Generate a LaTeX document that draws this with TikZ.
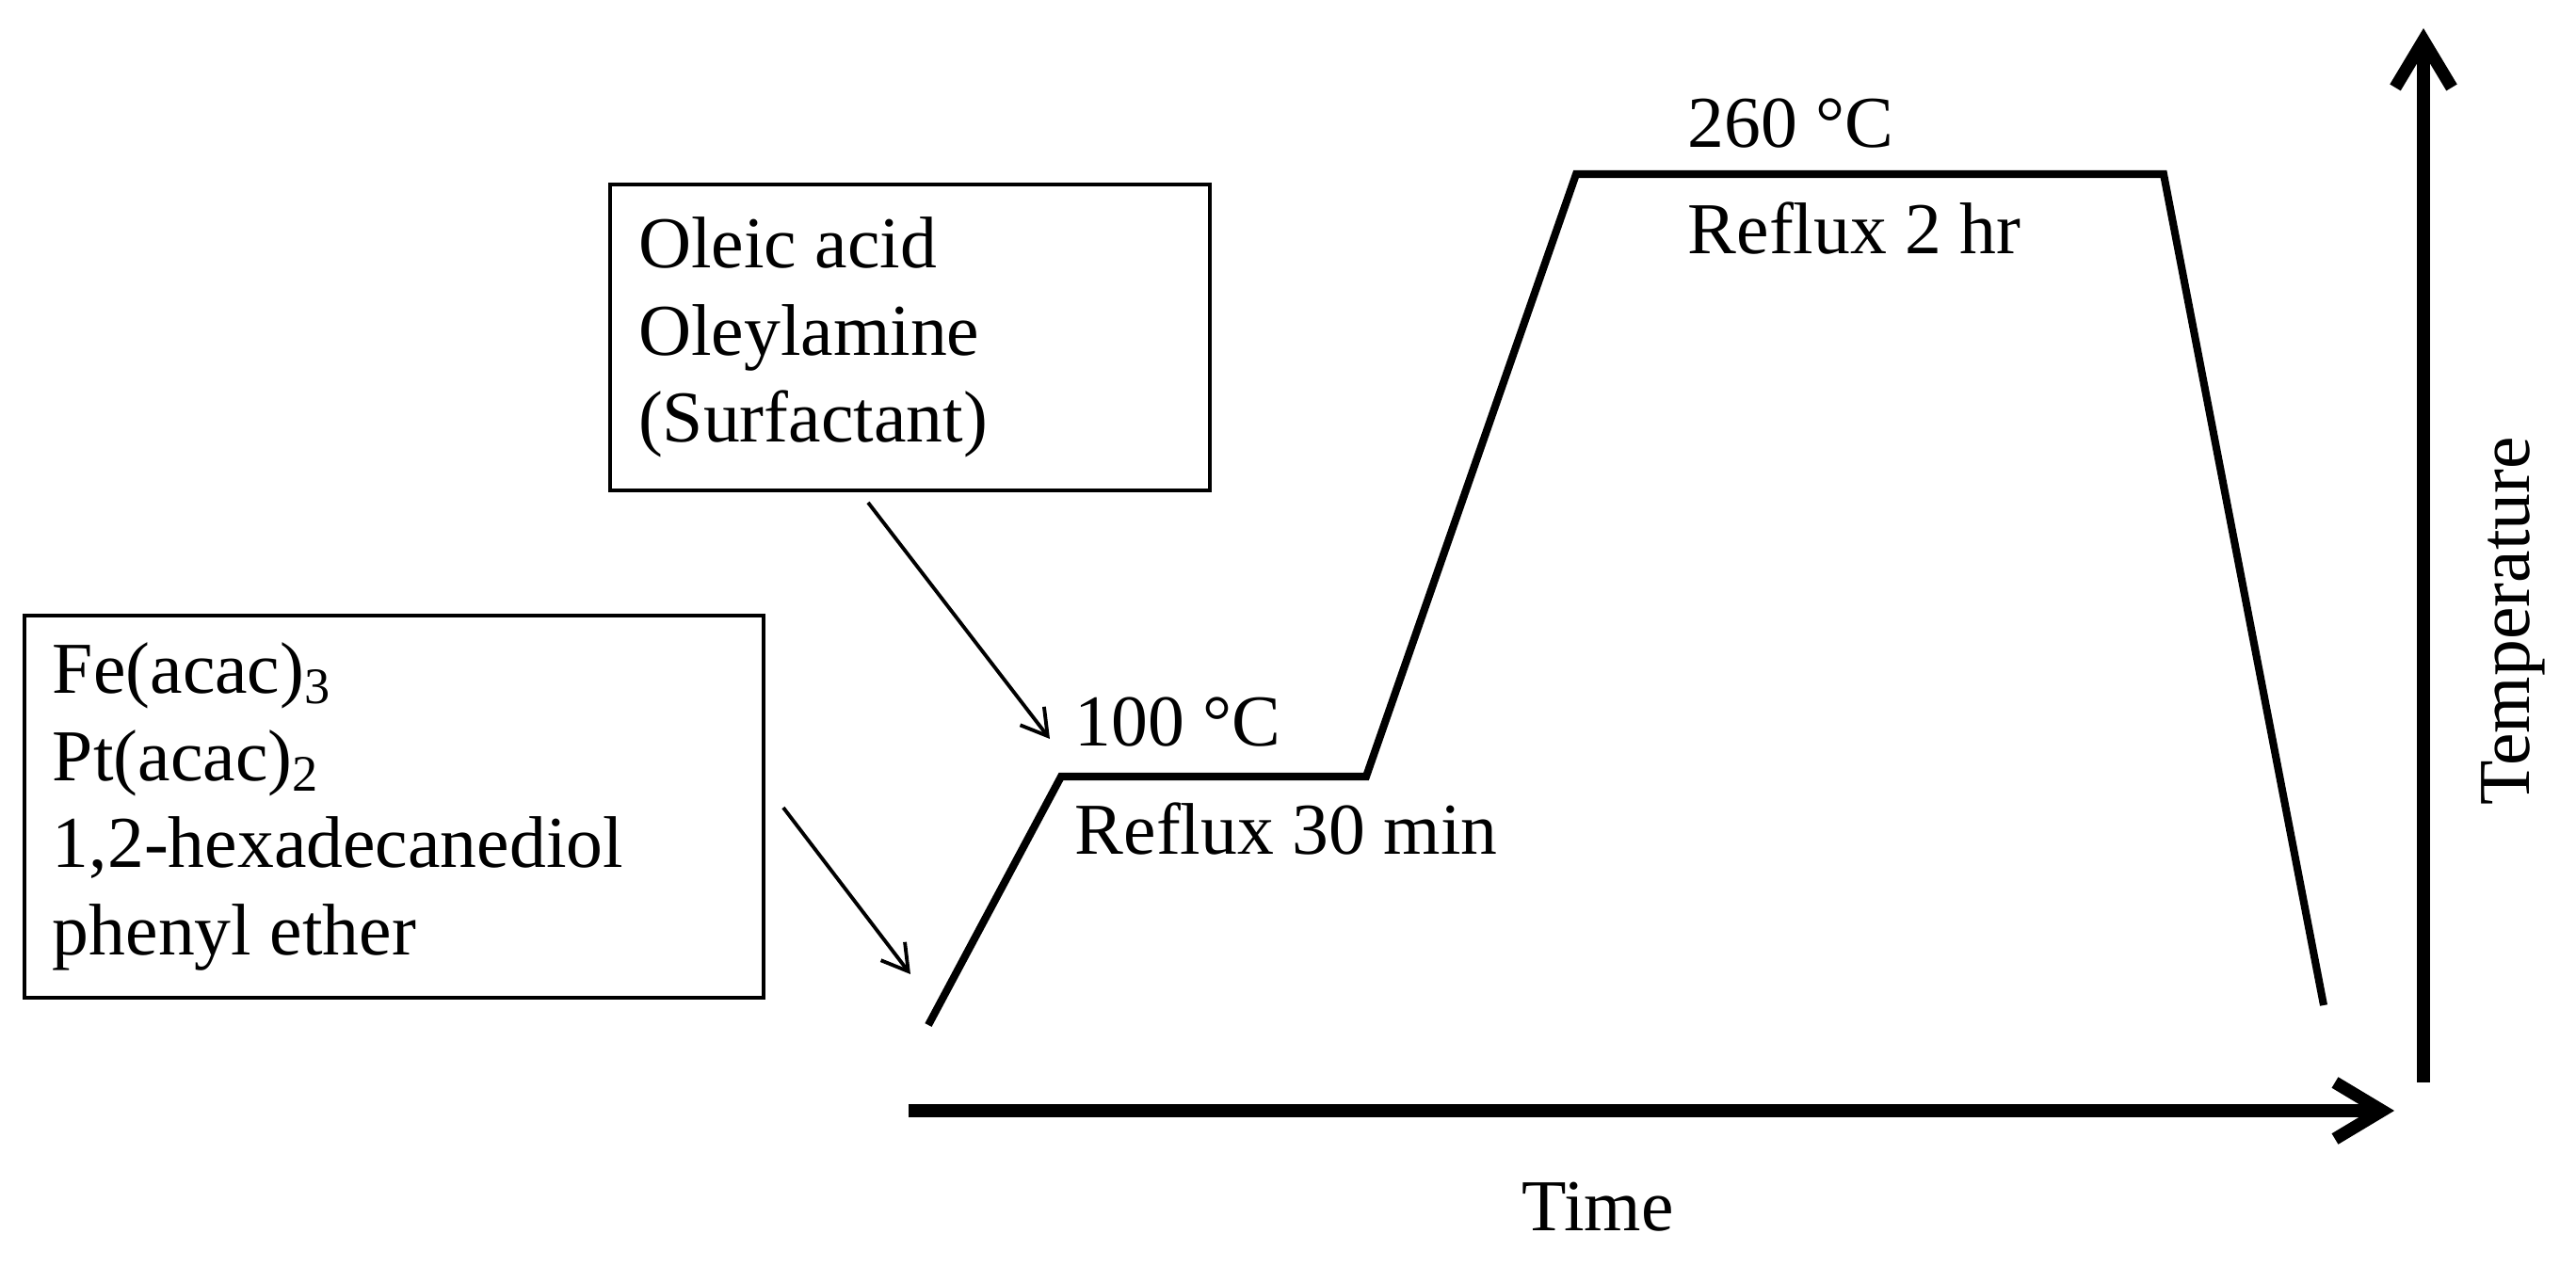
\documentclass[tikz,border=0pt]{standalone}
\usepackage{fontspec}
\setmainfont{Liberation Serif}
\usetikzlibrary{positioning, calc, arrows.meta}

\begin{document}
\begin{tikzpicture}[
		font=\fontsize{22.1pt}{26.4pt}\selectfont,
		% Style for the two ingredient boxes
		ingredient/.style={
			draw, line width=1.1pt,
			align=left, inner xsep=0.3cm, inner ysep=0pt,
			anchor=center,
			execute at begin node={\spaceskip=0pt\xspaceskip=0pt}
		},
		% Connector styles
		pointer/.style={-{Straight Barb[length=0.27cm, width=0.32cm]}, line width=1.1pt},
		axis/.style={-{Straight Barb[length=0.5cm, width=0.6cm]}, line width=3.8pt},
		profile/.style={line width=2.3pt},
		stage label/.style={anchor=base west, inner sep=0pt}
		]
		
		\useasboundingbox (0,0) rectangle (27.36,13.45);
		
		% --- 1. The Axes ---
		\coordinate (origin) at (9.65,1.65);
		\coordinate (time end) at (25.43,1.65);
		\coordinate (temp start) at (25.74,1.95);
		\coordinate (temp end) at (25.74,13.15);
		\draw[axis] (origin) -- (time end);
		\draw[axis] (temp start) -- (temp end);
		\node[anchor=base] (time) at (16.97,0.37) {Time};
		\node[rotate=90] (temperature) at (26.69,6.85) {Temperature};
		
		% --- 2. Temperature profile ---
		\coordinate (p0) at (9.86,2.56);
		\coordinate (p1) at (11.27,5.20);
		\coordinate (p2) at (14.51,5.20);
		\coordinate (p3) at (16.74,11.60);
		\coordinate (p4) at (22.98,11.60);
		\coordinate (p5) at (24.68,2.77);
		\draw[profile] (p0) -- (p1) -- (p2) -- (p3) -- (p4) -- (p5);
		
		% --- 3. Stage labels ---
		\node[stage label] (low temp) at ($(p1)+(0.14,0.32)$) {100 °C};
		\node[stage label] (low reflux) at ($(p1)+(0.14,-0.83)$) {Reflux 30 min};
		\node[stage label] (high temp) at ($(p3)+(1.18,0.28)$) {260 °C};
		\node[stage label] (high reflux) at ($(p3)+(1.18,-0.85)$) {Reflux 2 hr};
		
		% --- 4. Ingredient boxes ---
		\node[ingredient, minimum width=7.85cm, minimum height=4.06cm, text width=7.25cm] (fe box) at (4.185,4.88) {
			Fe(acac)\textsubscript{3}\\
			Pt(acac)\textsubscript{2}\\
			1,2-hexadecanediol\\
			phenyl ether
		};
		\node[ingredient, minimum width=6.37cm, minimum height=3.25cm, text width=5.77cm] (oleic box) at (9.665,9.865) {
			Oleic acid\\
			Oleylamine\\
			(Surfactant)
		};
		
		% --- 5. Arrows linking boxes to the profile ---
		\draw[pointer] ($(oleic box.south)+(-0.445,-0.11)$) -- ($(p1)+(-0.12,0.40)$);
		\draw[pointer] ($(fe box.east)+(0.19,-0.01)$) -- ($(p0)+(-0.19,0.54)$);
		
	\end{tikzpicture}
\end{document}
